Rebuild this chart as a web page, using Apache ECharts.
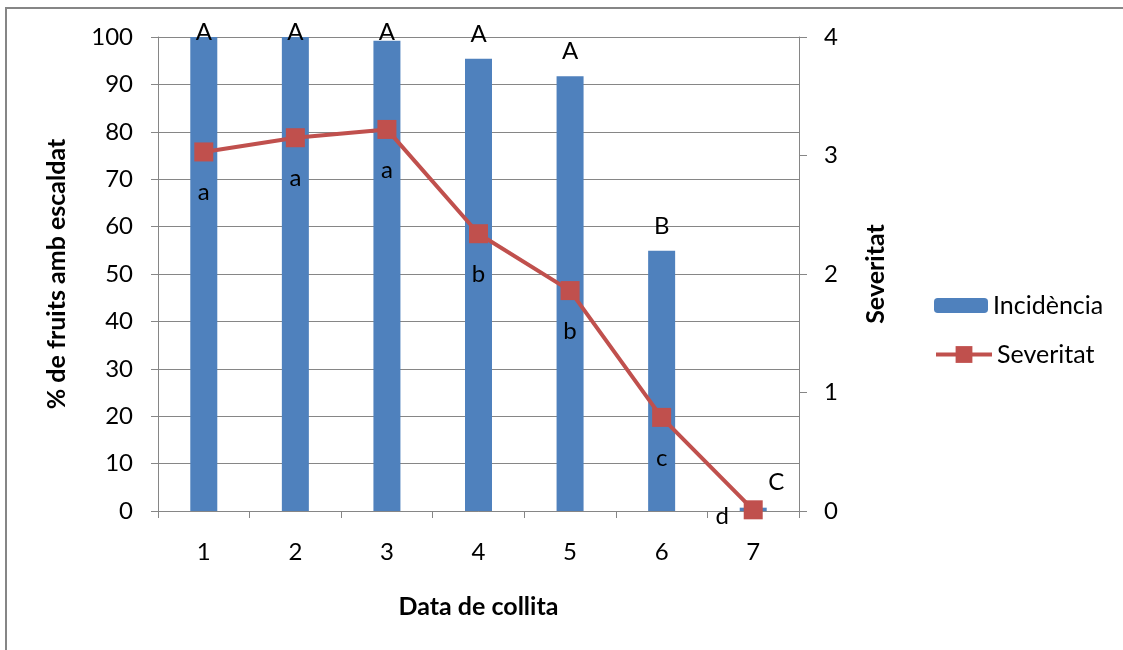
<!DOCTYPE html>
<html>
<head>
<meta charset="utf-8">
<title>Incidència i severitat de l'escaldat</title>
<script src="https://cdn.jsdelivr.net/npm/echarts@6/dist/echarts.min.js"></script>
<style>
  html, body { margin: 0; padding: 0; background: #fff; }
  #chart { width: 1123px; height: 650px; }
</style>
</head>
<body>
<div id="chart"></div>
<script>
// Harvest dates and measured values
const categories = ['1', '2', '3', '4', '5', '6', '7'];
const incidencia = [100, 100, 99.2, 95.4, 91.7, 54.9, 0.7];   // % fruits with scald
const severitat  = [3.03, 3.15, 3.22, 2.34, 1.86, 0.79, 0.01];
// Significance letters
const incLetters = ['A', 'A', 'A', 'A', 'A', 'B', 'C'];
const sevLetters = ['a', 'a', 'a', 'b', 'b', 'c', 'd'];

// Per-point label nudges (kept apart from the data)
const incLabelOffsets = [[0, 20], [0, 20], [0, 16], [0, 0], [0, 0], [0, 0], [23, 0]];
const sevLabelOffsets = [[0, 0], [0, 0], [0, 0], [0, 0], [0, 0], [0, 0], [-31, -34]];

const FONT = 'Lato, "Open Sans", sans-serif';
const AXIS_GRAY = '#868686';
const TXT = 24;     // tick and letter labels
const LEG = 25;     // legend text
const TITLE = 25;   // bold axis titles

const chart = echarts.init(document.getElementById('chart'), null, { renderer: 'canvas' });

const legendText = { fontFamily: FONT, fontSize: LEG, color: '#000' };
const titleText = { fontFamily: FONT, fontSize: TITLE, fontWeight: 'bold', color: '#000' };

chart.setOption({
  backgroundColor: '#fff',
  animation: false,
  textStyle: { fontFamily: FONT, color: '#000' },
  graphic: [{
    type: 'rect',
    shape: { x: 6, y: 8, width: 1300, height: 800 },
    style: { fill: 'none', stroke: AXIS_GRAY, lineWidth: 2 },
    silent: true
  }],
  grid: { left: 158, right: 324, top: 37, bottom: 139, containLabel: false },
  legend: [{
    orient: 'vertical',
    left: 929,
    top: 288,
    itemWidth: 54,
    itemHeight: 15,
    textStyle: legendText,
    data: ['Incidència']
  }, {
    orient: 'vertical',
    left: 929,
    top: 337,
    itemWidth: 56,
    itemHeight: 21,
    lineStyle: { width: 4 },
    textStyle: legendText,
    data: ['Severitat']
  }],
  xAxis: {
    type: 'category',
    data: categories,
    boundaryGap: true,
    name: 'Data de collita',
    nameLocation: 'middle',
    nameGap: 83,
    nameTextStyle: titleText,
    axisLine: { lineStyle: { color: AXIS_GRAY, width: 1 } },
    axisTick: { show: true, interval: 0, alignWithLabel: false, length: 7, lineStyle: { color: AXIS_GRAY } },
    axisLabel: { fontFamily: FONT, fontSize: TXT, color: '#000', margin: 29 },
    splitLine: { show: false }
  },
  yAxis: [{
    type: 'value',
    min: 0,
    max: 100,
    interval: 10,
    name: '% de fruits amb escaldat',
    nameLocation: 'middle',
    nameRotate: 90,
    nameGap: 89,
    nameTextStyle: titleText,
    axisLine: { show: true, lineStyle: { color: AXIS_GRAY, width: 1 } },
    axisTick: { show: true, length: 7, lineStyle: { color: AXIS_GRAY } },
    axisLabel: { fontFamily: FONT, fontSize: TXT, color: '#000', margin: 25 },
    splitLine: { show: true, lineStyle: { color: AXIS_GRAY, width: 1 } }
  }, {
    type: 'value',
    min: 0,
    max: 4,
    interval: 1,
    position: 'right',
    name: 'Severitat',
    nameLocation: 'middle',
    nameRotate: 90,
    nameGap: 64,
    nameTextStyle: titleText,
    axisLine: { show: true, lineStyle: { color: AXIS_GRAY, width: 1 } },
    axisTick: { show: true, length: 8, lineStyle: { color: AXIS_GRAY } },
    axisLabel: { fontFamily: FONT, fontSize: TXT, color: '#000', margin: 25 },
    splitLine: { show: false }
  }],
  series: [{
    name: 'Incidència',
    type: 'bar',
    yAxisIndex: 0,
    barWidth: 27,
    itemStyle: { color: '#4F81BD' },
    data: incidencia.map((v, i) => ({
      value: v,
      label: { offset: incLabelOffsets[i] }
    })),
    label: {
      show: true,
      position: 'top',
      distance: 13,
      fontFamily: FONT,
      fontSize: TXT,
      color: '#000',
      formatter: p => incLetters[p.dataIndex]
    },
    z: 2
  }, {
    name: 'Severitat',
    type: 'line',
    yAxisIndex: 1,
    symbol: 'rect',
    symbolSize: 19,
    lineStyle: { color: '#C0504D', width: 4 },
    itemStyle: { color: '#C0504D' },
    data: severitat.map((v, i) => ({
      value: v,
      label: { offset: sevLabelOffsets[i] }
    })),
    label: {
      show: true,
      position: 'bottom',
      distance: 19,
      fontFamily: FONT,
      fontSize: TXT,
      color: '#000',
      formatter: p => sevLetters[p.dataIndex]
    },
    z: 3
  }]
});
</script>
</body>
</html>
